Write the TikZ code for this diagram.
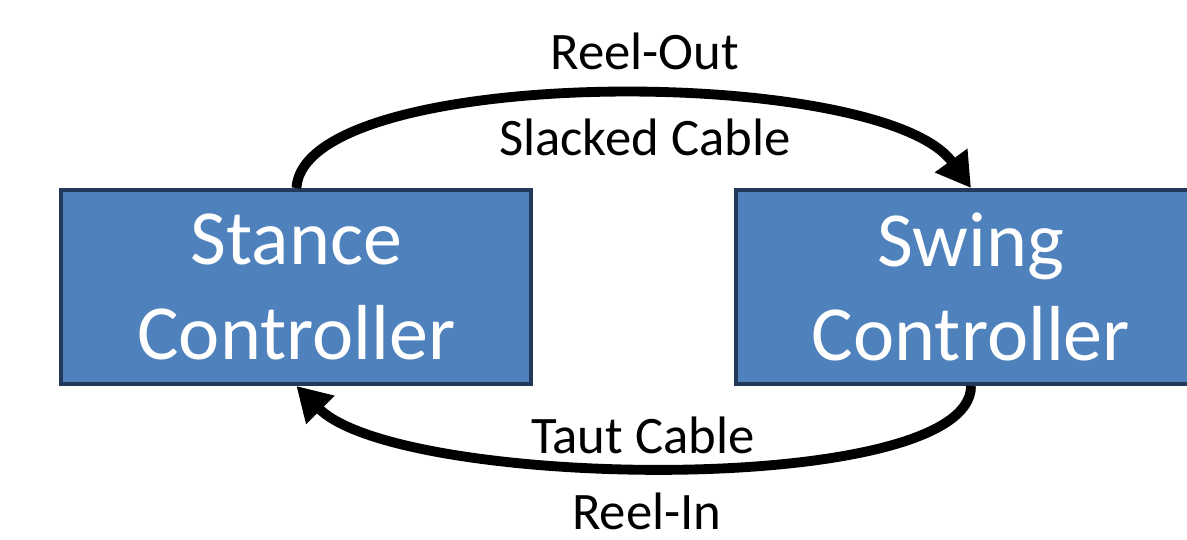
\documentclass[tikz,border=0pt]{standalone}
\usepackage{fontspec}
\setmainfont{Carlito}
\usepackage{xcolor}
\usepackage{tikz}
\usetikzlibrary{arrows.meta,positioning,calc}
\definecolor{ctrlfill}{HTML}{4F81BD}
\definecolor{ctrlline}{HTML}{24395A}

\begin{document}
\begin{tikzpicture}[
    % Stili base
    ctrl/.style={rectangle, draw=ctrlline, fill=ctrlfill, line width=2.8pt, minimum width=11.75cm, minimum height=4.85cm, text=white, align=center, font=\fontsize{55.5}{67}\selectfont},
    % Frecce
    trans/.style={line width=7pt, -{Triangle[length=0.85cm,width=0.95cm]}},
    % Testo
    lbl/.style={font=\fontsize{37.5}{45}\selectfont, text=black, inner sep=0pt}
]

\useasboundingbox (0,0) rectangle (29.675,13.475);

% === CONTROLLORI ===
\node[ctrl] (stance) at (7.41,6.3) {Stance\\Controller};
\node[ctrl] (swing) at (24.275,6.3) {Swing\\Controller};

% === TRANSIZIONI ===
\draw[trans] (stance.north) .. controls +(0.2,3.1) and +(-2.25,3.1) .. (swing.north);
\draw[trans] (swing.south) .. controls +(0,-2.8) and +(2.6,-2.6) .. (stance.south);

% Etichette
\node[lbl] (reelout) at (16.12,12.2) {Reel-Out};
\node[lbl] (slacked) at (16.12,10.05) {Slacked Cable};
\node[lbl] (taut) at (16.07,2.6) {Taut Cable};
\node[lbl] (reelin) at (16.17,0.68) {Reel-In};

\end{tikzpicture}
\end{document}
